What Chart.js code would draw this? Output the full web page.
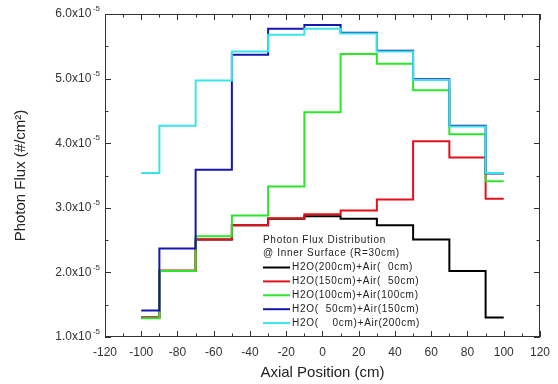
<!DOCTYPE html>
<html>
<head>
<meta charset="utf-8">
<script src="https://cdn.jsdelivr.net/npm/chart.js@4.4.1/dist/chart.umd.min.js"></script>
<style>
  html, body { margin: 0; padding: 0; background: #fff; }
  canvas { display: block; }
</style>
</head>
<body>
<canvas id="fluxChart" width="558" height="384"></canvas>
<script>
// bin edges along the axis (cm)
var edges = [-100, -90, -70, -50, -30, -10, 10, 30, 50, 70, 90, 100];

// photon flux per bin (x 1e-5 #/cm2)
var fluxH2O200 = [1.30, 2.02, 2.51, 2.73, 2.83, 2.87, 2.83, 2.73, 2.51, 2.02, 1.30];
var fluxH2O150 = [1.30, 2.03, 2.51, 2.73, 2.84, 2.90, 2.96, 3.13, 4.03, 3.78, 3.14];
var fluxH2O100 = [1.29, 2.02, 2.56, 2.88, 3.33, 4.48, 5.38, 5.23, 4.82, 4.14, 3.41];
var fluxH2O50  = [1.41, 2.37, 3.59, 5.37, 5.77, 5.83, 5.71, 5.43, 4.99, 4.27, 3.53];
var fluxH2O0   = [3.54, 4.27, 4.97, 5.42, 5.68, 5.77, 5.70, 5.42, 4.98, 4.26, 3.54];

var seriesLabels = [
  'H2O(200cm)+Air(  0cm)',
  'H2O(150cm)+Air(  50cm)',
  'H2O(100cm)+Air(100cm)',
  'H2O(  50cm)+Air(150cm)',
  'H2O(    0cm)+Air(200cm)'
];
var legendTitle = ['Photon Flux Distribution', '@ Inner Surface (R=30cm)'];
var xTicks = { min: -120, max: 120, major: 20, minor: 10 };
var yTicks = { min: 1, max: 6, major: 1, minor: 0.5, exp: -5 };

var colors = ['#000000', '#e4101c', '#2be62b', '#1616b0', '#3ae4e6'];
var FONT = '"Liberation Sans", Arial, sans-serif';

function steps(vals) {
  return edges.map(function(x, i) {
    return { x: x, y: vals[Math.min(i, vals.length - 1)] * Math.pow(10, yTicks.exp) };
  });
}

var allSeries = [fluxH2O200, fluxH2O150, fluxH2O100, fluxH2O50, fluxH2O0];
var datasets = allSeries.map(function(vals, i) {
  return {
    label: seriesLabels[i],
    data: steps(vals),
    borderColor: colors[i],
    borderWidth: 2,
    stepped: 'before',
    pointRadius: 0,
    fill: false,
    order: allSeries.length - i
  };
});

var framePlugin = {
  id: 'frame',
  afterDatasetsDraw: function(chart) {
    var c = chart.ctx, a = chart.chartArea;
    var xs = chart.scales.x, ys = chart.scales.y;
    var e = Math.pow(10, yTicks.exp);
    c.save();
    c.strokeStyle = '#333';
    c.lineWidth = 1;
    c.strokeRect(a.left + 0.5, a.top + 0.5, a.right - a.left - 1, a.bottom - a.top - 1);

    // inward ticks, all four sides
    c.beginPath();
    for (var v = xTicks.min; v <= xTicks.max; v += xTicks.minor) {
      var px = Math.round(xs.getPixelForValue(v)) + 0.5;
      var len = (v % xTicks.major === 0) ? 6 : 3.5;
      c.moveTo(px, a.bottom); c.lineTo(px, a.bottom - len);
      c.moveTo(px, a.top); c.lineTo(px, a.top + len);
    }
    for (var k = yTicks.min; k <= yTicks.max + 1e-9; k += yTicks.minor) {
      var py = Math.round(ys.getPixelForValue(k * e)) + 0.5;
      var l2 = (Math.abs(k - Math.round(k)) < 1e-9) ? 6 : 3.5;
      c.moveTo(a.left, py); c.lineTo(a.left + l2, py);
      c.moveTo(a.right, py); c.lineTo(a.right - l2, py);
    }
    c.stroke();

    // y tick labels with exponent
    c.fillStyle = '#333';
    c.textBaseline = 'middle';
    for (var m = yTicks.min; m <= yTicks.max; m += yTicks.major) {
      var y = ys.getPixelForValue(m * e);
      var base = m.toFixed(1) + 'x10';
      var sup = String(yTicks.exp);
      c.font = '8px ' + FONT;
      var sw = c.measureText(sup).width;
      c.textAlign = 'right';
      c.fillText(sup, 100, y - 5);
      c.font = '12px ' + FONT;
      c.fillText(base, 100 - sw - 1.5, y);
    }

    // axis titles
    c.font = '15px ' + FONT;
    c.textAlign = 'center';
    c.fillStyle = '#222';
    c.fillText('Axial Position (cm)', (a.left + a.right) / 2, 373);
    c.save();
    c.translate(21, (a.top + a.bottom) / 2);
    c.rotate(-Math.PI / 2);
    c.fillText('Photon Flux (#/cm\u00b2)', 0, 0);
    c.restore();

    // legend
    c.font = '10px ' + FONT;
    c.letterSpacing = '0.7px';
    c.textAlign = 'left';
    c.fillStyle = '#222';
    c.fillText(legendTitle[0], 263, 240);
    c.fillText(legendTitle[1], 263, 253.5);
    chart.data.datasets.forEach(function(ds, i) {
      var ly = 267.5 + i * 13.9;
      c.strokeStyle = ds.borderColor;
      c.lineWidth = 2;
      c.beginPath();
      c.moveTo(263, ly); c.lineTo(290, ly);
      c.stroke();
      c.fillText(ds.label, 292, ly);
    });
    c.restore();
  }
};

var chart = new Chart(document.getElementById('fluxChart').getContext('2d'), {
  type: 'line',
  data: { datasets: datasets },
  options: {
    responsive: false,
    animation: false,
    events: [],
    layout: { padding: { top: 14, right: 13, left: 0, bottom: 0 } },
    plugins: { legend: { display: false }, tooltip: { enabled: false } },
    scales: {
      x: {
        type: 'linear',
        min: xTicks.min,
        max: xTicks.max,
        grid: { display: false, drawTicks: false },
        border: { display: false },
        ticks: {
          stepSize: xTicks.major,
          autoSkip: false,
          maxRotation: 0,
          padding: 8,
          color: '#333',
          font: { size: 12, family: FONT }
        },
        afterFit: function(s) { s.height = 47; }
      },
      y: {
        type: 'linear',
        min: yTicks.min * Math.pow(10, yTicks.exp),
        max: yTicks.max * Math.pow(10, yTicks.exp),
        grid: { display: false, drawTicks: false },
        border: { display: false },
        ticks: { display: false },
        afterFit: function(s) { s.width = 105; }
      }
    }
  },
  plugins: [framePlugin]
});
</script>
</body>
</html>
